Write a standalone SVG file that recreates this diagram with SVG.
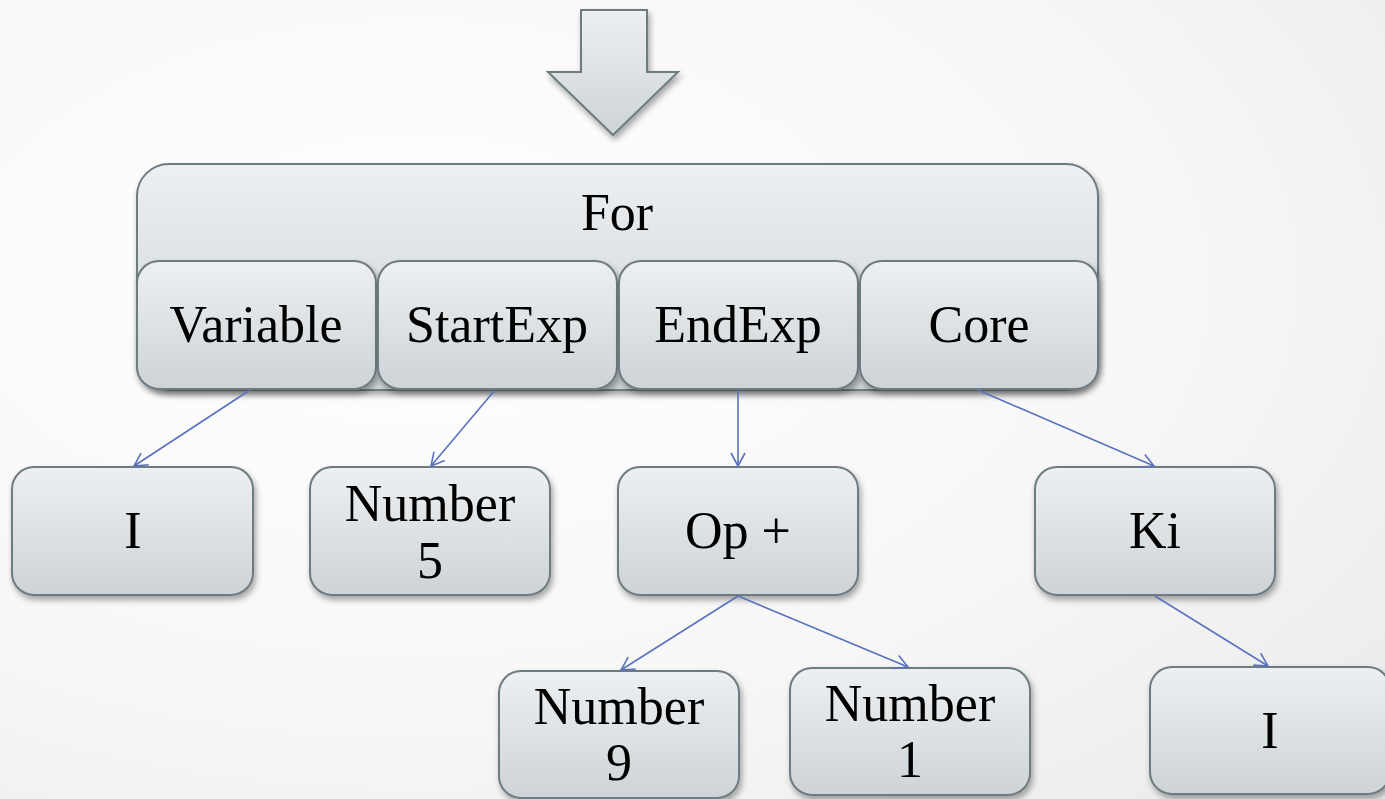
<svg xmlns="http://www.w3.org/2000/svg" width="1385" height="799" viewBox="0 0 1385 799">
<defs>
<radialGradient id="bg" cx="0.3" cy="0.35" r="0.9">
<stop offset="0" stop-color="#ffffff"/>
<stop offset="0.6" stop-color="#f7f7f7"/>
<stop offset="1" stop-color="#ebebeb"/>
</radialGradient>
<linearGradient id="box" x1="0" y1="0" x2="0" y2="1">
<stop offset="0" stop-color="#edf0f2"/>
<stop offset="1" stop-color="#cdd3d7"/>
</linearGradient>
<filter id="sh" x="-10%" y="-10%" width="125%" height="130%">
<feGaussianBlur in="SourceAlpha" stdDeviation="3"/>
<feOffset dx="2" dy="4" result="b"/>
<feComponentTransfer><feFuncA type="linear" slope="0.35"/></feComponentTransfer>
<feMerge><feMergeNode/><feMergeNode in="SourceGraphic"/></feMerge>
</filter>
<marker id="ah" markerWidth="16" markerHeight="16" refX="14" refY="8" orient="auto" markerUnits="userSpaceOnUse">
<path d="M1,1 L14,8 L1,15" fill="none" stroke="#5a72bd" stroke-width="1.6"/>
</marker>
</defs>
<style>
.b{fill:url(#box);stroke:#6e7b80;stroke-width:2;filter:url(#sh)}
.t{font-family:"Liberation Serif","Times New Roman",serif;font-size:52px;fill:#000;text-anchor:middle}
.c{stroke:#5a72bd;stroke-width:1.6;fill:none;marker-end:url(#ah)}
</style>
<rect width="1385" height="799" fill="url(#bg)"/>
<g id="arrow">
<path d="M581,10 L647,10 L647,72 L678,72 L613,135 L548,72 L581,72 Z" fill="url(#box)" stroke="#6e7b80" stroke-width="2" filter="url(#sh)"/>
</g>
<g id="for">
<rect class="b" x="137" y="164" width="961" height="226" rx="32"/>
<text class="t" x="617" y="230">For</text>
</g>
<g id="variable">
<rect class="b" x="137" y="261" width="239" height="128" rx="22"/>
<text class="t" x="256" y="342">Variable</text>
</g>
<g id="startexp">
<rect class="b" x="378" y="261" width="239" height="128" rx="22"/>
<text class="t" x="497" y="342">StartExp</text>
</g>
<g id="endexp">
<rect class="b" x="619" y="261" width="239" height="128" rx="22"/>
<text class="t" x="738" y="342">EndExp</text>
</g>
<g id="core">
<rect class="b" x="860" y="261" width="238" height="128" rx="22"/>
<text class="t" x="979" y="342">Core</text>
</g>
<g id="i1">
<rect class="b" x="12" y="467" width="241" height="128" rx="22"/>
<text class="t" x="133" y="548">I</text>
</g>
<g id="number5">
<rect class="b" x="310" y="467" width="240" height="128" rx="22"/>
<text class="t" x="430" y="521">Number</text>
<text class="t" x="430" y="578">5</text>
</g>
<g id="opplus">
<rect class="b" x="618" y="467" width="240" height="128" rx="22"/>
<text class="t" x="738" y="548">Op +</text>
</g>
<g id="ki">
<rect class="b" x="1035" y="467" width="240" height="128" rx="22"/>
<text class="t" x="1155" y="548">Ki</text>
</g>
<g id="number9">
<rect class="b" x="499" y="671" width="240" height="127" rx="22"/>
<text class="t" x="619" y="724">Number</text>
<text class="t" x="619" y="780">9</text>
</g>
<g id="number1">
<rect class="b" x="790" y="668" width="240" height="127" rx="22"/>
<text class="t" x="910" y="721">Number</text>
<text class="t" x="910" y="777">1</text>
</g>
<g id="i2">
<rect class="b" x="1150" y="667" width="240" height="127" rx="22"/>
<text class="t" x="1270" y="748">I</text>
</g>
<g id="connectors">
<line class="c" x1="250" y1="390" x2="134" y2="466"/>
<line class="c" x1="495" y1="390" x2="431" y2="466"/>
<line class="c" x1="738" y1="390" x2="738" y2="466"/>
<line class="c" x1="978" y1="390" x2="1154" y2="466"/>
<line class="c" x1="738" y1="596" x2="621" y2="670"/>
<line class="c" x1="738" y1="596" x2="908" y2="667"/>
<line class="c" x1="1155" y1="596" x2="1268" y2="666"/>
</g>
</svg>
